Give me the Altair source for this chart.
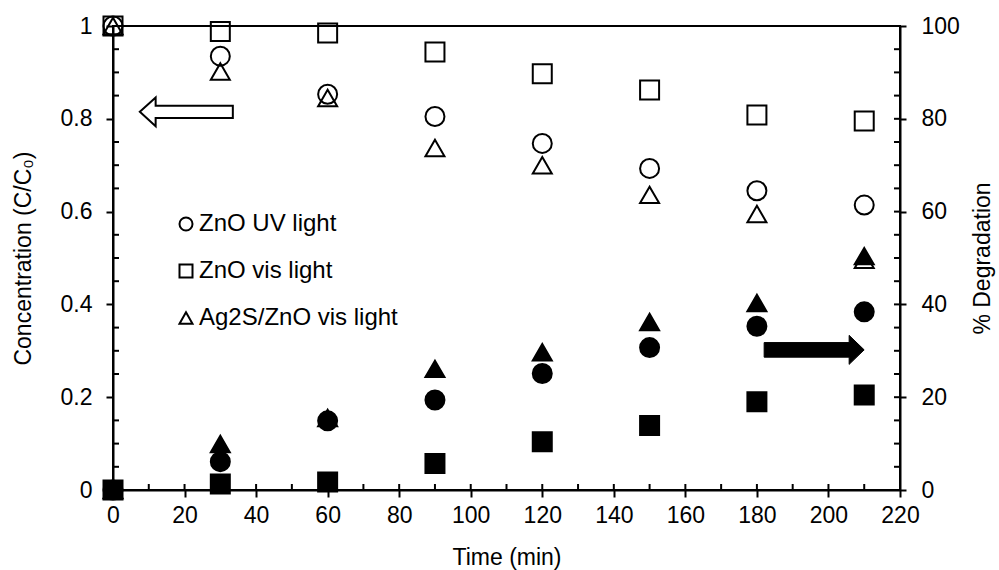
import altair as alt
import pandas as pd

# ---------------- data ----------------
time_min = [0, 30, 60, 90, 120, 150, 180, 210]
series_names = ["ZnO UV light", "ZnO vis light", "Ag2S/ZnO vis light"]
series_shapes = ["circle", "square", "triangle-up"]

# concentration C/C0 (left axis, open markers)
zno_uv_conc = [1.0, 0.935, 0.853, 0.805, 0.747, 0.693, 0.645, 0.614]
zno_vis_conc = [1.0, 0.988, 0.985, 0.944, 0.897, 0.862, 0.808, 0.795]
ag2s_vis_conc = [1.0, 0.902, 0.845, 0.737, 0.700, 0.636, 0.595, 0.496]

# % degradation (right axis, filled markers)
zno_uv_deg = [0, 6.1, 14.9, 19.4, 25.1, 30.7, 35.3, 38.4]
zno_vis_deg = [0, 1.3, 1.7, 5.7, 10.4, 13.9, 19.0, 20.5]
ag2s_vis_deg = [0, 9.9, 15.5, 26.1, 29.7, 36.2, 40.3, 50.4]

# tick values
x_major = [0, 20, 40, 60, 80, 100, 120, 140, 160, 180, 200, 220]
x_inner = [0, 10, 20, 30, 40, 50, 60, 70, 80, 90, 100, 110, 120, 130, 140,
           150, 160, 170, 180, 190, 200, 210, 220]
left_major = [0, 0.2, 0.4, 0.6, 0.8, 1.0]
left_minor = [0.05, 0.1, 0.15, 0.25, 0.3, 0.35, 0.45, 0.5, 0.55, 0.65, 0.7,
              0.75, 0.85, 0.9, 0.95]
right_major = [0, 20, 40, 60, 80, 100]
right_inner = [0, 5, 10, 15, 20, 25, 30, 35, 40, 45, 50, 55, 60, 65, 70, 75,
               80, 85, 90, 95, 100]

# arrow annotations (data coordinates)
left_arrow_x = [20.5]
left_arrow_y = [0.815]
right_arrow_x = [196]
right_arrow_y = [30.2]

# ---------------- tables ----------------
draw_order = [("Ag2S/ZnO vis light", ag2s_vis_conc, ag2s_vis_deg),
              ("ZnO UV light", zno_uv_conc, zno_uv_deg),
              ("ZnO vis light", zno_vis_conc, zno_vis_deg)]
conc_rows, deg_rows = [], []
for name, cvals, dvals in draw_order:
    for t, c, d in zip(time_min, cvals, dvals):
        conc_rows.append({"time": t, "value": c, "series": name})
        deg_rows.append({"time": t, "value": d, "series": name})
conc_df = pd.DataFrame(conc_rows)
deg_df = pd.DataFrame(deg_rows)

W, H = 787, 464
FONT = "Liberation Sans"
FS = 23

x_scale = alt.Scale(domain=[0, 220], nice=False, zero=False)
yl_scale = alt.Scale(domain=[0, 1], nice=False)
yr_scale = alt.Scale(domain=[0, 100], nice=False)
shape_scale = alt.Scale(domain=series_names, range=series_shapes)

x_axis = alt.Axis(values=x_major, tickSize=7, title="Time (min)",
                  format="d", labelPadding=7, titlePadding=19,
                  labelFlush=False, labelOverlap=False)
yl_axis = alt.Axis(values=left_major, tickSize=7, format="~g",
                   title="Concentration (C/C₀)", labelPadding=14,
                   titlePadding=25, labelFlush=False, labelOverlap=False)
yr_axis = alt.Axis(orient="right", values=right_major, tickSize=6,
                   format="d", title="% Degradation", titleAngle=270,
                   labelPadding=15, titlePadding=35, labelFlush=False,
                   labelOverlap=False)


def X(field):
    return alt.X(field, type="quantitative", scale=x_scale, axis=x_axis)


def YL(field):
    return alt.Y(field, type="quantitative", scale=yl_scale, axis=yl_axis)


def YR(field):
    return alt.Y(field, type="quantitative", scale=yr_scale, axis=yr_axis)


# ---------------- left group ----------------
open_pts = alt.Chart(conc_df).mark_point(
    filled=False, color="black", strokeWidth=2, size=361, opacity=1
).encode(
    x=X("time"),
    y=YL("value"),
    shape=alt.Shape("series:N", scale=shape_scale,
                    legend=alt.Legend(orient="none", legendX=61, legendY=186,
                                      title=None, labelFont=FONT,
                                      labelFontSize=24, labelColor="black",
                                      labelLimit=0,
                                      symbolSize=169, symbolStrokeWidth=2,
                                      symbolStrokeColor="black",
                                      labelOffset=1, rowPadding=23,
                                      padding=0)),
)

x_ticks_in = alt.Chart(pd.DataFrame({"time": x_inner})).mark_rule(
    color="black", strokeWidth=2
).encode(
    x=X("time"),
    y=alt.value(H),
    y2=alt.value(H - 6),
)

left_ticks_in = alt.Chart(pd.DataFrame({"value": left_minor})).mark_rule(
    color="black", strokeWidth=2
).encode(
    y=YL("value"),
    x=alt.value(0),
    x2=alt.value(6),
)

left_arrow_path = ("M-1,0 L-0.66,-0.31 L-0.66,-0.13 L1,-0.13 L1,0.13 "
                   "L-0.66,0.13 L-0.66,0.31 Z")
left_arrow = alt.Chart(pd.DataFrame({"time": left_arrow_x,
                                     "value": left_arrow_y})).mark_point(
    shape=left_arrow_path, size=93 * 93, filled=True, fill="white",
    stroke="black", strokeWidth=2, opacity=1
).encode(
    x=X("time"),
    y=YL("value"),
)

left_group = alt.layer(open_pts, x_ticks_in, left_ticks_in, left_arrow)

# ---------------- right group ----------------
filled_pts = alt.Chart(deg_df).mark_point(
    filled=True, color="black", stroke="black", strokeWidth=2, size=361,
    opacity=1
).encode(
    x=X("time"),
    y=YR("value"),
    shape=alt.Shape("series:N", scale=shape_scale, legend=None),
)

right_ticks_in = alt.Chart(pd.DataFrame({"value": right_inner})).mark_rule(
    color="black", strokeWidth=2
).encode(
    y=YR("value"),
    x=alt.value(W - 6),
    x2=alt.value(W),
)

right_arrow_path = ("M1,0 L0.7,-0.29 L0.7,-0.146 L-1,-0.146 L-1,0.146 "
                    "L0.7,0.146 L0.7,0.29 Z")
right_arrow = alt.Chart(pd.DataFrame({"time": right_arrow_x,
                                      "value": right_arrow_y})).mark_point(
    shape=right_arrow_path, size=100 * 100, filled=True, fill="black",
    stroke="black", strokeWidth=1, opacity=1
).encode(
    x=X("time"),
    y=YR("value"),
)

right_group = alt.layer(filled_pts, right_ticks_in, right_arrow)

chart = alt.layer(left_group, right_group).resolve_scale(
    y="independent", shape="independent"
).properties(
    width=W, height=H,
    autosize=alt.AutoSizeParams(type="none"),
    padding={"left": 113, "top": 26, "right": 99, "bottom": 80},
    background="white",
).configure_view(
    stroke="black", strokeWidth=2
).configure_axis(
    domainColor="black", domainWidth=2, tickColor="black", tickWidth=2,
    labelFont=FONT, labelFontSize=FS, labelColor="black",
    titleFont=FONT, titleFontSize=FS, titleFontWeight="normal",
    titleColor="black", grid=False,
)

chart.save("out.html", embed_options={"renderer": "svg", "actions": False})
